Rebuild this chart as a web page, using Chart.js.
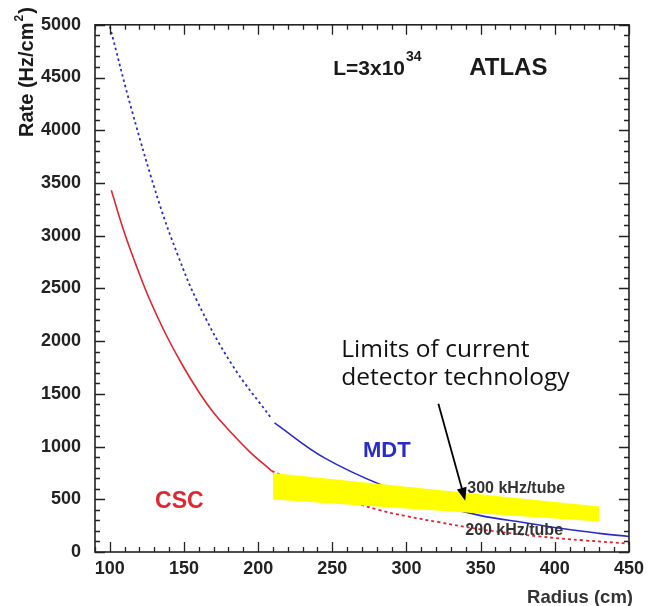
<!DOCTYPE html>
<html>
<head>
<meta charset="utf-8">
<script src="https://cdn.jsdelivr.net/npm/chart.js@4/dist/chart.umd.min.js"></script>
<style>
  html, body { margin: 0; padding: 0; background: #fff; }
  canvas { display: block; }
</style>
</head>
<body>
<canvas id="rateChart" width="650" height="606"></canvas>
<script>
// ค่าที่อ่านจากภาพ
const cscX = [101, 110, 120, 127, 138, 149, 160, 170, 180, 194, 209];
const cscY = [3430, 3020, 2635, 2390, 2058, 1771, 1518, 1320, 1160, 955, 770];

const cscDotX = [209, 230, 255, 281, 300, 321, 350, 388, 420, 450];
const cscDotY = [770, 640, 515, 400, 340, 285, 215, 150, 110, 80];

const mdtDotX = [100, 115, 133.5, 146, 159, 182, 209];
const mdtDotY = [4985, 4180, 3300, 2810, 2375, 1785, 1265];

const mdtX = [211, 245, 289, 320, 350, 380, 406, 430, 450];
const mdtY = [1225, 890, 600, 450, 345, 278, 220, 177, 147];

const bandX = [210, 430];
const bandTop = [750, 431];
const bandBottom = [497, 290];

const xTicks = [100, 150, 200, 250, 300, 350, 400, 450];
const yTicks = [0, 500, 1000, 1500, 2000, 2500, 3000, 3500, 4000, 4500, 5000];

const RED = '#e0262e';
const BLUE = '#2b2bc8';
const FONT = '"Liberation Sans", Arial, sans-serif';

function pts(xs, ys) {
  return xs.map((x, i) => ({ x: x, y: ys[i] }));
}

// ขีดสเกลแบบชี้เข้าด้านใน + กรอบ
const frameTicks = {
  id: 'frameTicks',
  afterDatasetsDraw(chart) {
    const { ctx, chartArea: a, scales } = chart;
    const xs = scales.x, ys = scales.y;
    ctx.save();
    ctx.strokeStyle = '#222';
    ctx.lineWidth = 1.3;
    ctx.beginPath();
    for (let v = 90; v <= 450; v += 10) {
      const px = Math.round(xs.getPixelForValue(v)) + 0.5;
      const len = v % 50 === 0 ? 10 : 5;
      ctx.moveTo(px, a.bottom); ctx.lineTo(px, a.bottom - len);
      ctx.moveTo(px, a.top); ctx.lineTo(px, a.top + len);
    }
    for (let v = 0; v <= 5000; v += 100) {
      const py = Math.round(ys.getPixelForValue(v)) + 0.5;
      const len = v % 500 === 0 ? 10 : 5;
      ctx.moveTo(a.left, py); ctx.lineTo(a.left + len, py);
      ctx.moveTo(a.right, py); ctx.lineTo(a.right - len, py);
    }
    ctx.stroke();
    ctx.lineWidth = 1.6;
    ctx.strokeRect(a.left, a.top, a.right - a.left, a.bottom - a.top);
    ctx.restore();
  }
};

// ข้อความต่าง ๆ
const labels = {
  id: 'labels',
  afterDraw(chart) {
    const { ctx, scales } = chart;
    const X = v => scales.x.getPixelForValue(v);
    const Y = v => scales.y.getPixelForValue(v);
    ctx.save();
    ctx.textBaseline = 'middle';

    ctx.font = 'bold 22px ' + FONT;
    ctx.fillStyle = BLUE;
    ctx.textAlign = 'center';
    ctx.fillText('MDT', X(286.7), Y(956));
    ctx.font = 'bold 23px ' + FONT;
    ctx.fillStyle = RED;
    ctx.fillText('CSC', X(146.9), Y(478));

    ctx.fillStyle = '#1a1a1a';
    ctx.textAlign = 'left';
    ctx.font = 'bold 21px ' + FONT;
    const lx = X(250.6), ly = Y(4583);
    ctx.fillText('L=3x10', lx, ly);
    const w = ctx.measureText('L=3x10').width;
    ctx.font = 'bold 14px ' + FONT;
    ctx.fillText('34', lx + w + 1, ly - 12);
    ctx.font = 'bold 24px ' + FONT;
    ctx.fillText('ATLAS', X(342.3), ly);

    ctx.fillStyle = '#333';
    ctx.font = 'bold 16px ' + FONT;
    ctx.fillText('300 kHz/tube', X(341), Y(600));
    ctx.fillText('200 kHz/tube', X(339.6), Y(206));

    // Y title
    ctx.save();
    ctx.translate(27, 137);
    ctx.rotate(-Math.PI / 2);
    ctx.fillStyle = '#1a1a1a';
    ctx.font = 'bold 20px ' + FONT;
    ctx.fillText('Rate (Hz/cm', 0, 0);
    let tw = ctx.measureText('Rate (Hz/cm').width;
    ctx.font = 'bold 12px ' + FONT;
    ctx.fillText('2', tw + 1, -7);
    tw += ctx.measureText('2').width + 2;
    ctx.font = 'bold 20px ' + FONT;
    ctx.fillText(')', tw, 0);
    ctx.restore();

    // X title
    ctx.textAlign = 'right';
    ctx.font = 'bold 18.5px ' + FONT;
    ctx.fillText('Radius (cm)', 633, 598);

    // คำอธิบาย
    ctx.textAlign = 'left';
    ctx.textBaseline = 'alphabetic';
    ctx.fillStyle = '#111';
    ctx.font = '24.5px "Open Sans", sans-serif';
    ctx.fillText('Limits of current', X(256), Y(1846));
    ctx.fillText('detector technology', X(256), Y(1584));

    // ลูกศร
    const x1 = X(321.5), y1 = Y(1406), x2 = X(339.6), y2 = Y(487);
    const ang = Math.atan2(y2 - y1, x2 - x1);
    ctx.strokeStyle = '#000';
    ctx.fillStyle = '#000';
    ctx.lineWidth = 1.8;
    ctx.beginPath();
    ctx.moveTo(x1, y1);
    ctx.lineTo(x2 - 10 * Math.cos(ang), y2 - 10 * Math.sin(ang));
    ctx.stroke();
    ctx.beginPath();
    ctx.moveTo(x2, y2);
    ctx.lineTo(x2 - 13 * Math.cos(ang) + 5 * Math.sin(ang), y2 - 13 * Math.sin(ang) - 5 * Math.cos(ang));
    ctx.lineTo(x2 - 13 * Math.cos(ang) - 5 * Math.sin(ang), y2 - 13 * Math.sin(ang) + 5 * Math.cos(ang));
    ctx.closePath();
    ctx.fill();
    ctx.restore();
  }
};

const tickFont = { family: FONT, size: 18, weight: 'bold' };

new Chart(document.getElementById('rateChart'), {
  type: 'line',
  data: {
    datasets: [
      {
        label: 'band bottom',
        data: pts(bandX, bandBottom),
        borderWidth: 0,
        borderColor: 'rgba(0,0,0,0)',
        pointRadius: 0,
        fill: false,
        order: 0
      },
      {
        label: 'band top',
        data: pts(bandX, bandTop),
        borderWidth: 0,
        borderColor: 'rgba(0,0,0,0)',
        backgroundColor: '#ffff00',
        pointRadius: 0,
        fill: 0,
        order: 0
      },
      {
        label: 'CSC',
        data: pts(cscX, cscY),
        borderColor: RED,
        borderWidth: 1.6,
        pointRadius: 0,
        tension: 0.4,
        order: 2
      },
      {
        label: 'CSC extrapolated',
        data: pts(cscDotX, cscDotY),
        borderColor: RED,
        borderWidth: 1.8,
        borderDash: [3, 3],
        pointRadius: 0,
        tension: 0.4,
        order: 2
      },
      {
        label: 'MDT extrapolated',
        data: pts(mdtDotX, mdtDotY),
        borderColor: BLUE,
        borderWidth: 1.8,
        borderDash: [2.5, 3],
        pointRadius: 0,
        tension: 0.4,
        order: 2
      },
      {
        label: 'MDT',
        data: pts(mdtX, mdtY),
        borderColor: BLUE,
        borderWidth: 1.6,
        pointRadius: 0,
        tension: 0.4,
        order: 2
      }
    ]
  },
  options: {
    responsive: false,
    animation: false,
    devicePixelRatio: 1,
    layout: { padding: { top: 19, right: 17, left: 0, bottom: 0 } },
    plugins: {
      legend: { display: false },
      tooltip: { enabled: false }
    },
    scales: {
      x: {
        type: 'linear',
        min: 90,
        max: 450,
        afterBuildTicks: s => { s.ticks = xTicks.map(v => ({ value: v })); },
        afterFit: s => { s.height = 54; },
        grid: { display: false, drawTicks: false },
        border: { display: false },
        ticks: { font: tickFont, color: '#222', padding: 6, maxRotation: 0, callback: v => String(v) }
      },
      y: {
        min: 0,
        max: 5000,
        afterBuildTicks: s => { s.ticks = yTicks.map(v => ({ value: v })); },
        afterFit: s => { s.width = 95; },
        grid: { display: false, drawTicks: false },
        border: { display: false },
        ticks: { font: tickFont, color: '#222', padding: 14, callback: v => String(v) }
      }
    }
  },
  plugins: [frameTicks, labels]
});
</script>
</body>
</html>
